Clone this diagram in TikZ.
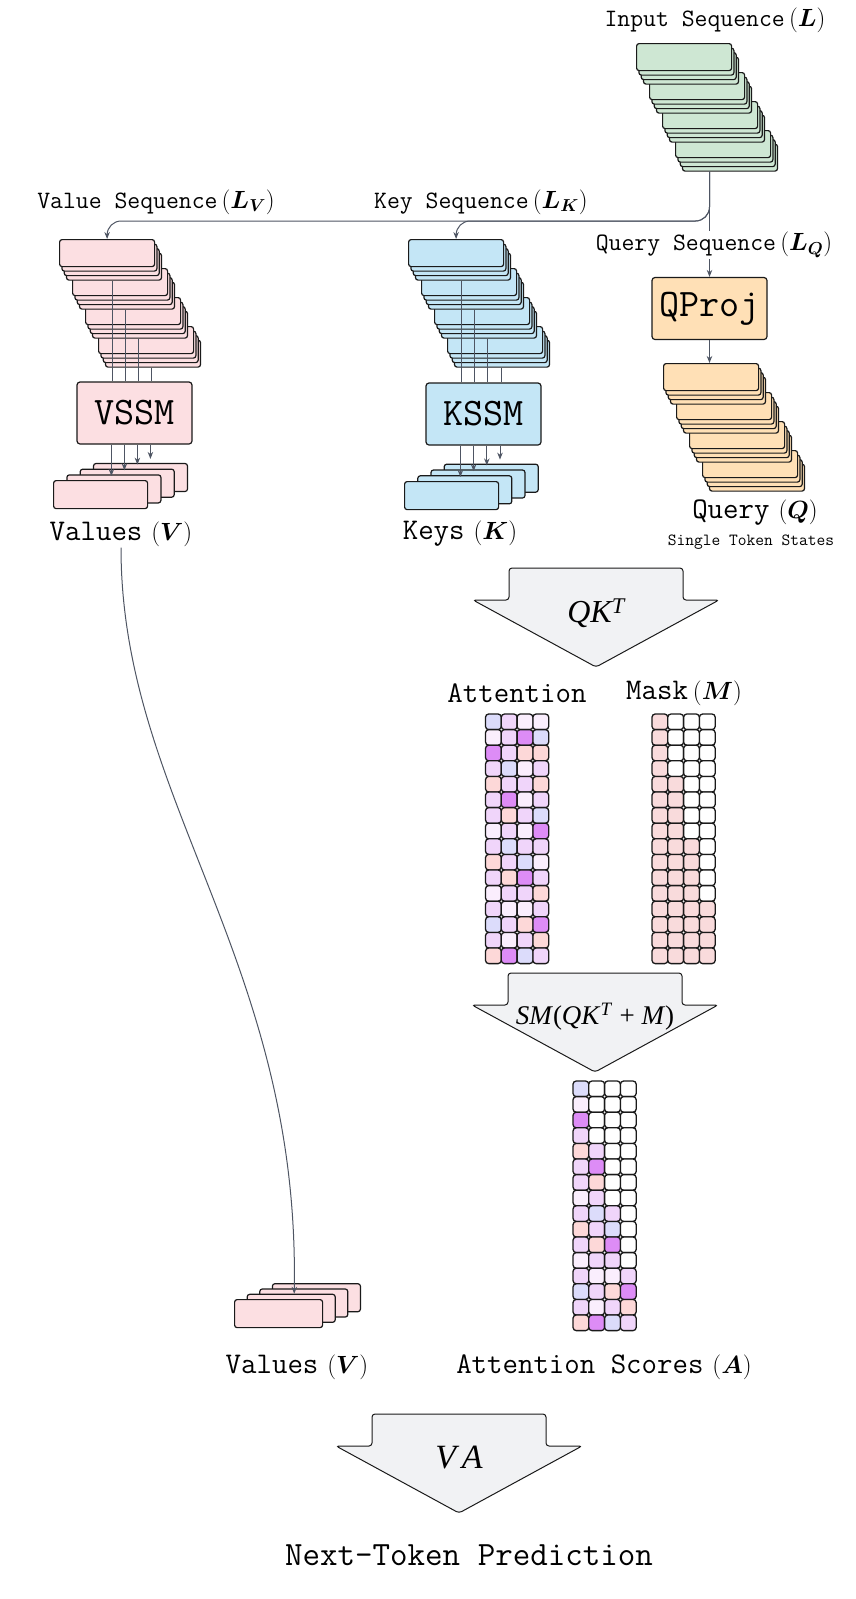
\documentclass[tikz,border=0pt]{standalone}
\usepackage{amsmath}
\usepackage{fontspec}
\usetikzlibrary{arrows.meta,calc}
\newfontfamily\tms{Liberation Serif}
\definecolor{outc}{HTML}{1A1A1A}
\definecolor{connc}{HTML}{4E5563}
\definecolor{gfill}{HTML}{CEE7D3}
\definecolor{pfill}{HTML}{FCDFE2}
\definecolor{bfill}{HTML}{C4E6F6}
\definecolor{ofill}{HTML}{FFE0B6}
\definecolor{arrfill}{HTML}{F1F2F4}
\definecolor{cB}{HTML}{DCDCFB}
\definecolor{cL}{HTML}{F0D5FA}
\definecolor{cW}{HTML}{FAEEFD}
\definecolor{cP}{HTML}{DD8CF6}
\definecolor{cR}{HTML}{FDD8D8}
\definecolor{cM}{HTML}{F9DBDC}
\definecolor{cN}{HTML}{FFFFFF}

\newcommand{\bigstack}[4]{%
  \foreach \i in {15,14,...,0}{%
    \pgfmathsetmacro{\sx}{#2+int(\i/4)*13+mod(\i,4)*2.3}%
    \pgfmathsetmacro{\sy}{#3+int(\i/4)*29+mod(\i,4)*4.5}%
    \node[stackbox, fill=#4] (#1\i) at (\sx,\sy) {};
  }}
\newcommand{\smallstack}[7]{%
  \foreach \i in {3,2,1,0}{%
    \pgfmathsetmacro{\sx}{#2+\i*(#6)}%
    \pgfmathsetmacro{\sy}{#3+\i*(#7)}%
    \node[stackbox, fill=#4, minimum width=#5pt, minimum height=28pt] (#1\i) at (\sx,\sy) {};
  }}
\newcommand{\blockarrow}[2]{%
  \draw[blockarr] ({#1-87},{#2+32}) -- ({#1-87},#2) -- ({#1+87},#2) -- ({#1+87},{#2+32})
    -- ({#1+123},{#2+32}) -- (#1,{#2+99}) -- ({#1-123},{#2+32}) -- cycle;}
\newcommand{\attcolors}{{B,L,W,W},{W,L,P,B},{P,L,R,R},{L,B,W,L},{R,L,L,R},{L,P,W,L},{L,R,L,B},{W,L,W,P},{L,B,L,L},{R,L,B,W},{L,R,P,L},{W,L,L,R},{L,W,W,L},{B,L,R,P},{L,W,L,R},{R,P,B,L}}

\begin{document}
\begin{tikzpicture}[x=1pt,y=-1pt,
  conn/.style={draw=connc, line width=1pt},
  arr/.style={-{Stealth[length=7pt,width=5.5pt]}},
  stackbox/.style={draw=outc, line width=1.2pt, rounded corners=2.5pt, minimum width=95pt, minimum height=27pt, anchor=north west, inner sep=0pt},
  ssmbox/.style={draw=outc, line width=1.2pt, rounded corners=3pt, minimum width=115pt, minimum height=62pt, inner sep=0pt, font=\fontsize{39}{42}\selectfont\ttfamily},
  cell/.style={draw=outc, line width=1.3pt, rounded corners=3.2pt},
  seqlab/.style={font=\fontsize{25}{28}\selectfont\ttfamily, inner sep=1pt},
  biglab/.style={font=\fontsize{30}{33}\selectfont\ttfamily, inner sep=1pt},
  blockarr/.style={draw=outc, line width=1pt, fill=arrfill, rounded corners=3pt}
]
\useasboundingbox (0,0) rectangle (855,1599);

% ---------- stacks ----------
\bigstack{in}{636}{43}{gfill}
\bigstack{v}{59}{239}{pfill}
\bigstack{k}{408}{239}{bfill}
\bigstack{q}{663}{363}{ofill}

\smallstack{vs}{53}{480}{pfill}{94}{13.3}{-5.7}
\smallstack{ks}{404}{481}{bfill}{94}{13.2}{-5.8}
\smallstack{bs}{234}{1299}{pfill}{88}{12.6}{-5.3}

% ---------- processing boxes ----------
\node[ssmbox, fill=pfill] (vssm) at (134.5,413) {VSSM};
\node[ssmbox, fill=bfill] (kssm) at (483.5,414) {KSSM};
\node[ssmbox, fill=ofill] (qproj) at (709.5,308.5) {QProj};

% ---------- labels ----------
\node[seqlab] (inlab) at (715,20) {Input Sequence\,$(\boldsymbol{L})$};
\node[seqlab] (vseq) at (156,202) {Value Sequence\,$(\boldsymbol{L_V})$};
\node[seqlab] (kseq) at (481,202) {Key Sequence\,$(\boldsymbol{L_K})$};

% ---------- input connectors ----------
\coordinate (split) at (qproj.north |- 0,221);
\draw[conn, arr, rounded corners=14pt] (in15.south -| qproj.north) -- (split) -| (v0.north);
\draw[conn, arr, rounded corners=14pt] (in15.south -| qproj.north) -- (split) -| (k0.north);
\draw[conn, arr] (in15.south -| qproj.north) -- (qproj.north);
\node[seqlab, fill=white] (qseq) at (714,245) {Query Sequence\,$(\boldsymbol{L_Q})$};
\draw[conn, arr] (qproj.south) -- (qproj.south |- q0.north);

% ---------- SSM connectors ----------
\foreach \k [evaluate=\k as \g using int(4*\k+3)] in {0,1,2,3}{
  \coordinate (vt\k) at ($(vssm.north west)+({36+13*\k},0)$);
  \coordinate (vb\k) at ($(vssm.south west)+({35+13*\k},0)$);
  \draw[conn] (vt\k |- v\g.south) -- (vt\k);
  \draw[conn, arr, shorten >=4pt] (vb\k) -- (vb\k |- vs\k.north);
  \coordinate (kt\k) at ($(kssm.north west)+({36+13.2*\k},0)$);
  \coordinate (kb\k) at ($(kssm.south west)+({35+13.2*\k},0)$);
  \draw[conn] (kt\k |- k\g.south) -- (kt\k);
  \draw[conn, arr, shorten >=4pt] (kb\k) -- (kb\k |- ks\k.north);
}

\node[biglab] (vlab) at (121,534) {Values\hspace{0.3em}$(\boldsymbol{V})$};
\node[biglab] (klab) at (460,534) {Keys\hspace{0.3em}$(\boldsymbol{K})$};
\node[biglab] (qlab) at (755,513) {Query\hspace{0.3em}$(\boldsymbol{Q})$};
\node[font=\fontsize{17}{19}\selectfont\ttfamily, inner sep=1pt] (qsub) at (751,542) {Single Token States};

% ---------- long value connector ----------
\draw[conn, arr] (vlab.south) .. controls (121,800) and (300,960) .. ($(bs1.north)+(3,0)$);

% ---------- block arrows ----------
\blockarrow{596}{568}
\node[font=\fontsize{32}{35}\selectfont\tms\itshape] (qkl) at (596,613) {QK\textsuperscript{T}};
\blockarrow{595}{973}
\node[font=\fontsize{27}{30}\selectfont\tms] (sml) at (595,1017) {\textit{SM}(\textit{QK}\textsuperscript{\textit{T}} + \textit{M})};
\blockarrow{459}{1414}
\node[font=\fontsize{34}{37}\selectfont\tms\itshape] (val) at (459,1458) {V\,A};

% ---------- matrices ----------
\node[biglab] (attlab) at (517,693) {Attention};
\node[biglab] (masklab) at (684,693) {Mask\,$(\boldsymbol{M})$};
\foreach [count=\r] \row in \attcolors {
  \pgfmathtruncatemacro{\kk}{int((\r-1)/4)+1}
  \foreach [count=\c] \col in \row {
    \draw[cell, fill=c\col] ({485.5+(\c-1)*15.8},{714+(\r-1)*15.6}) rectangle ++(15.8,15.6);
    \ifnum\c>\kk \def\mc{cN}\def\sc{cN}\else \def\mc{cM}\def\sc{c\col}\fi
    \draw[cell, fill=\mc] ({652+(\c-1)*15.8},{714+(\r-1)*15.6}) rectangle ++(15.8,15.6);
    \draw[cell, fill=\sc] ({573+(\c-1)*15.8},{1081+(\r-1)*15.6}) rectangle ++(15.8,15.6);
  }
}

\node[biglab] (bvlab) at (297,1367) {Values\hspace{0.3em}$(\boldsymbol{V})$};
\node[biglab] (scorelab) at (604,1367) {Attention Scores\hspace{0.3em}$(\boldsymbol{A})$};
\node[font=\fontsize{34}{37}\selectfont\ttfamily] (ntp) at (469,1555) {Next-Token Prediction};
\end{tikzpicture}
\end{document}
